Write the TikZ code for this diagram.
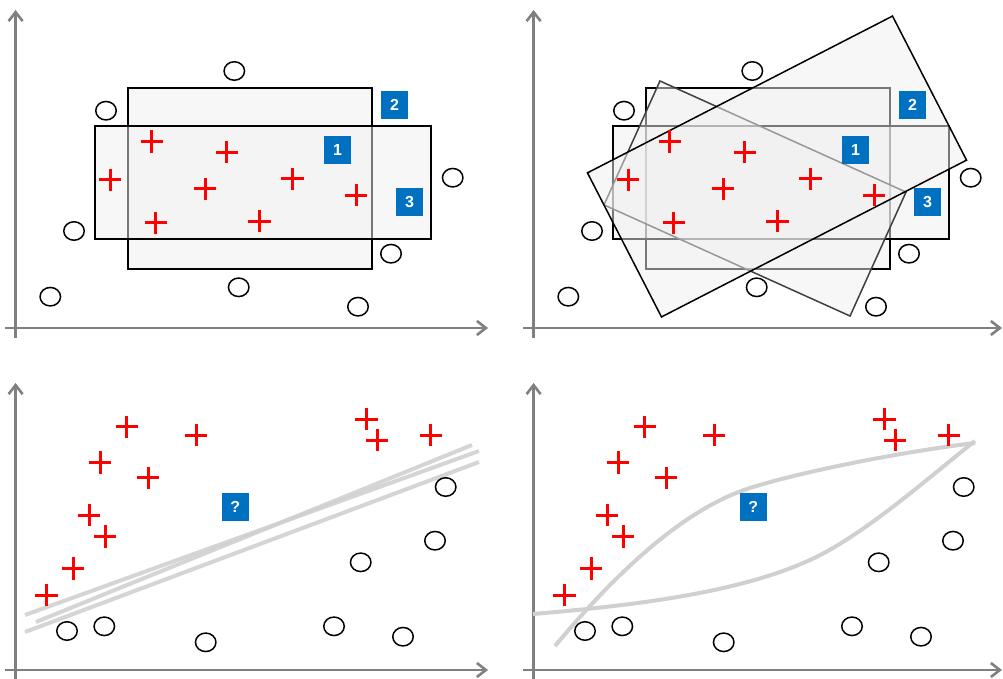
\documentclass[tikz,border=0pt]{standalone}
\usepackage{fontspec}
\setmainfont{Liberation Sans}
\usetikzlibrary{arrows.meta,shapes.geometric}
\definecolor{axisgray}{RGB}{128,128,128}
\definecolor{lblue}{RGB}{0,112,192}
\definecolor{sepgray}{RGB}{208,208,208}
\definecolor{plusred}{RGB}{255,0,0}
\tikzset{
 axisarrow/.style={draw=axisgray, line width=2.6pt, -{Straight Barb[length=9pt,width=14pt]}},
 hbox/.style={draw=black, line width=1.5pt, fill=black!6, fill opacity=0.5, rectangle, inner sep=0pt},
 hboxlight/.style={hbox, draw=black!75},
 plusspot/.style={rectangle, inner sep=0pt, minimum size=22pt},
 plusbar/.style={draw=plusred, line width=3pt},
 ring/.style={ellipse, draw=black, line width=1.5pt, minimum width=20.5pt, minimum height=18.5pt, inner sep=0pt},
 numtag/.style={fill=lblue, text=white, font=\fontsize{16}{16}\selectfont\bfseries, minimum width=27pt, minimum height=28pt, inner sep=0pt},
 sepline/.style={draw=sepgray, line width=4pt},
}
\newcommand{\mkaxes}[4]{% y-axis bottom, y-axis top, x-axis y, x-axis end
 \coordinate (ys) at (15.6,#1); \coordinate (ye) at (15.6,#2);
 \coordinate (xs) at (5,#3); \coordinate (xe) at (#4,#3);
 \draw[axisarrow] (ys) -- (ye);
 \draw[axisarrow] (xs) -- (xe);}
\newcommand{\mkplus}[3]{% name, x, y
 \node[plusspot] (#1) at (#2,#3) {};
 \draw[plusbar] (#1.north) -- (#1.south);
 \draw[plusbar] (#1.west) -- (#1.east);}
\newcommand{\myrectsTop}{%
 \node[hbox, minimum width=244pt, minimum height=181pt] (r2) at (250,178.5) {};
 \node[hbox, minimum width=336pt, minimum height=113pt] (r3) at (263,182.5) {};}
\newcommand{\myptsTop}{%
 \foreach \px/\py [count=\i] in {151.7/141.7,226.7/152.3,110/180,205/189,292.3/179,356/195,155.7/222.7,259.3/221}
   {\mkplus{p\i}{\px}{\py}}
 \foreach \px/\py [count=\i] in {234.3/71,106/110.7,452.7/177.7,74/231,391/253.7,50.3/296.7,238.7/287.3,358/306.7}
   {\node[ring] (c\i) at (\px,\py) {};}
 \node[numtag] (t1) at (337.5,150) {1};
 \node[numtag] (t2) at (394.5,105) {2};
 \node[numtag] (t3) at (409.5,202) {3};}
\newcommand{\myptsBot}{%
 \foreach \px/\py [count=\i] in {126.7/426.7,196/435,100/462.3,148/477.7,89/515,105/536.3,73/568.3,46.3/595,366.3/419,377/440,430.7/435}
   {\mkplus{p\i}{\px}{\py}}
 \foreach \px/\py [count=\i] in {445.7/487,435/540.7,360.7/562.3,334/626.3,403/636.7,205.7/642.3,67/631,104.3/626.3}
   {\node[ring] (c\i) at (\px,\py) {};}
 \node[numtag] (q) at (235.3,507) {?};}
\begin{document}
\begin{tikzpicture}[x=1pt,y=-1pt]
\useasboundingbox (0,0) rectangle (1003,679);
% ---------- top left ----------
\begin{scope}[name prefix=tl-]
 \mkaxes{338}{10}{328}{488}
 \myrectsTop
 \myptsTop
\end{scope}
% ---------- top right ----------
\begin{scope}[name prefix=tr-, xshift=518pt]
 \mkaxes{338}{10}{328}{484}
 \myrectsTop
\end{scope}
\node[hboxlight, rotate=-24.3, minimum width=270pt, minimum height=136pt] (tr-rb) at (755,198.5) {};
\node[hbox, rotate=27.2, minimum width=343pt, minimum height=162pt] (tr-ra) at (777,166.5) {};
\begin{scope}[name prefix=tr-, xshift=518pt]
 \myptsTop
\end{scope}
% ---------- bottom left ----------
\begin{scope}[name prefix=bl-]
 \mkaxes{679}{383}{670}{488}
 \coordinate (a1) at (25,615);   \coordinate (b1) at (479,451);
 \coordinate (a2) at (36,622);   \coordinate (b2) at (472,445);
 \coordinate (a3) at (25,632);   \coordinate (b3) at (479,462);
 \draw[sepline, draw opacity=0.9] (a1) -- (b1);
 \draw[sepline, draw opacity=0.9] (a2) -- (b2);
 \draw[sepline, draw opacity=0.9] (a3) -- (b3);
 \myptsBot
\end{scope}
% ---------- bottom right ----------
\begin{scope}[name prefix=br-, xshift=518pt]
 \mkaxes{679}{383}{670}{484}
\end{scope}
\coordinate (br-s1) at (555,646);
\coordinate (br-m1) at (750,488);
\coordinate (br-e1) at (975,443);
\coordinate (br-s2) at (533,614);
\coordinate (br-m2) at (810,560);
\coordinate (br-e2) at (975,441);
\draw[sepline] (br-s1) .. controls (610,580) and (680,510) .. (br-m1)
               .. controls (800,472) and (900,452) .. (br-e1);
\draw[sepline] (br-s2) .. controls (640,605) and (740,592) .. (br-m2)
               .. controls (865,535) and (935,472) .. (br-e2);
\begin{scope}[name prefix=br-, xshift=518pt]
 \myptsBot
\end{scope}
\end{tikzpicture}
\end{document}
